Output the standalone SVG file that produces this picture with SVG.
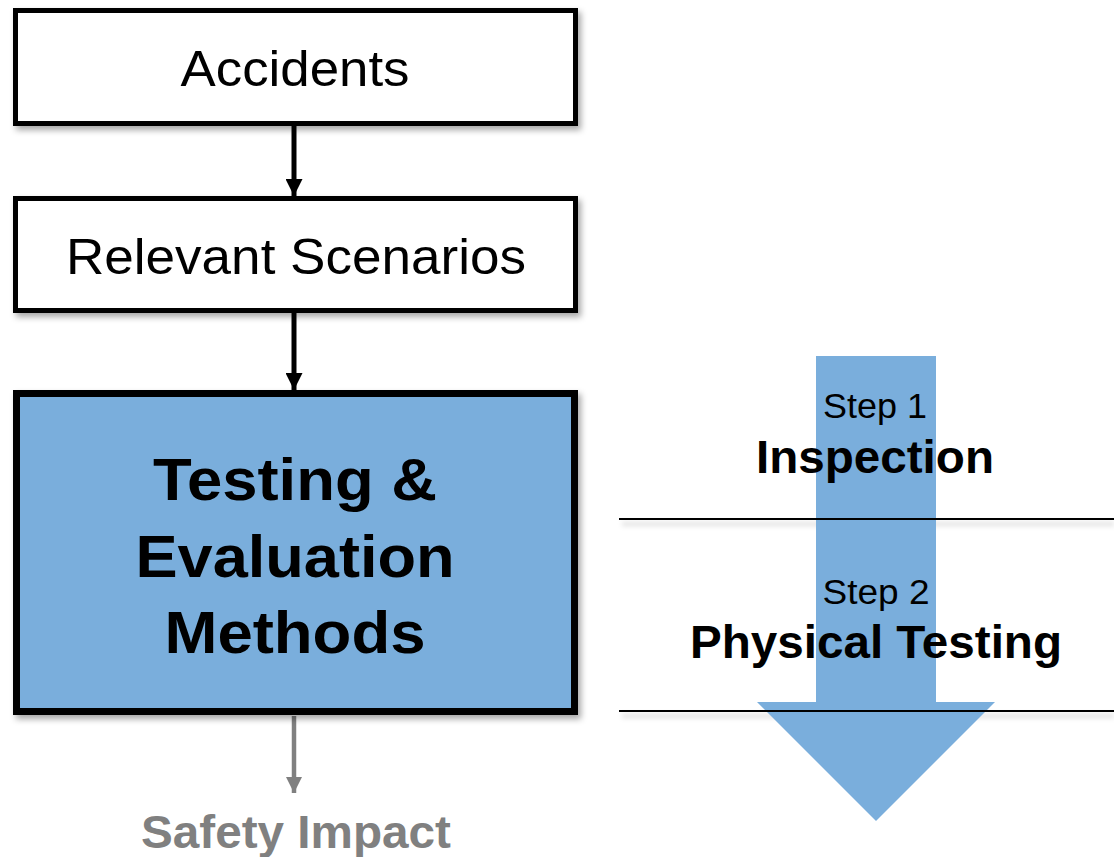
<svg xmlns="http://www.w3.org/2000/svg" width="1114" height="857" viewBox="0 0 1114 857">
<defs>
<style>
.box{fill:#ffffff;stroke:#000;stroke-width:5}
.main{fill:#7aaedc;stroke:#000;stroke-width:7}
.t{font-family:"Liberation Sans",Arial,sans-serif;text-anchor:middle;fill:#000}
.c{stroke:#000;stroke-width:5;fill:none}
.sep{stroke:#000;stroke-width:2}
.sepsh{stroke:#000;stroke-opacity:0.12;stroke-width:4}
</style>
<filter id="sh" x="-5%" y="-5%" width="115%" height="125%">
<feDropShadow dx="3" dy="4" stdDeviation="3" flood-color="#000" flood-opacity="0.35"/>
</filter>
<filter id="blur" filterUnits="userSpaceOnUse" x="600" y="500" width="514" height="240">
<feGaussianBlur stdDeviation="2.5"/>
</filter>
<marker id="ah" viewBox="0 0 10 10" refX="10" refY="5" markerWidth="3.4" markerHeight="3.4" markerUnits="strokeWidth" orient="auto">
<path d="M0,0 L10,5 L0,10 z" fill="#000"/>
</marker>
<marker id="ahg" viewBox="0 0 10 10" refX="10" refY="5" markerWidth="3.6" markerHeight="3.6" markerUnits="strokeWidth" orient="auto">
<path d="M0,0 L10,5 L0,10 z" fill="#808080"/>
</marker>
</defs>
<rect width="1114" height="857" fill="#fff"/>

<g id="separator-shadows" filter="url(#blur)">
<line class="sepsh" x1="622" y1="524" x2="1114" y2="524"/>
<line class="sepsh" x1="622" y1="716" x2="1114" y2="716"/>
</g>

<g id="process-arrow">
<path d="M816,356 L936,356 L936,702 L995,702 L876,821 L757,702 L816,702 Z" fill="#7aaedc"/>
</g>

<g id="separators">
<line class="sep" x1="619" y1="519" x2="1114" y2="519"/>
<line class="sep" x1="619" y1="711" x2="1114" y2="711"/>
</g>

<g id="connectors">
<line class="c" x1="294" y1="126" x2="294" y2="196" marker-end="url(#ah)"/>
<line class="c" x1="294" y1="313" x2="294" y2="390" marker-end="url(#ah)"/>
<line x1="294" y1="716" x2="294" y2="793" stroke="#808080" stroke-width="4.5" marker-end="url(#ahg)"/>
</g>

<g id="node-accidents">
<rect class="box" x="15.5" y="10.5" width="560" height="113" filter="url(#sh)"/>
<text class="t" x="295" y="86" font-size="50" textLength="229" lengthAdjust="spacingAndGlyphs">Accidents</text>
</g>

<g id="node-scenarios">
<rect class="box" x="15.5" y="198.5" width="560" height="112" filter="url(#sh)"/>
<text class="t" x="296" y="274" font-size="50" textLength="460" lengthAdjust="spacingAndGlyphs">Relevant Scenarios</text>
</g>

<g id="node-methods">
<rect class="main" x="16.5" y="393.5" width="558" height="318" filter="url(#sh)"/>
<text class="t" x="295" y="500" font-size="60" font-weight="bold" textLength="284" lengthAdjust="spacingAndGlyphs">Testing &amp;</text>
<text class="t" x="295" y="577" font-size="60" font-weight="bold" textLength="319" lengthAdjust="spacingAndGlyphs">Evaluation</text>
<text class="t" x="295" y="653" font-size="60" font-weight="bold" textLength="261" lengthAdjust="spacingAndGlyphs">Methods</text>
</g>

<g id="node-safety">
<text class="t" x="296" y="848" font-size="46" font-weight="bold" style="fill:#808080" textLength="310" lengthAdjust="spacingAndGlyphs">Safety Impact</text>
</g>

<g id="step1">
<text class="t" x="875" y="418" font-size="35" textLength="104" lengthAdjust="spacingAndGlyphs">Step 1</text>
<text class="t" x="875" y="473" font-size="47" font-weight="bold" textLength="238" lengthAdjust="spacingAndGlyphs">Inspection</text>
</g>

<g id="step2">
<text class="t" x="876" y="604" font-size="35" textLength="107" lengthAdjust="spacingAndGlyphs">Step 2</text>
<text class="t" x="876" y="658" font-size="47" font-weight="bold" textLength="372" lengthAdjust="spacingAndGlyphs">Physical Testing</text>
</g>
</svg>
